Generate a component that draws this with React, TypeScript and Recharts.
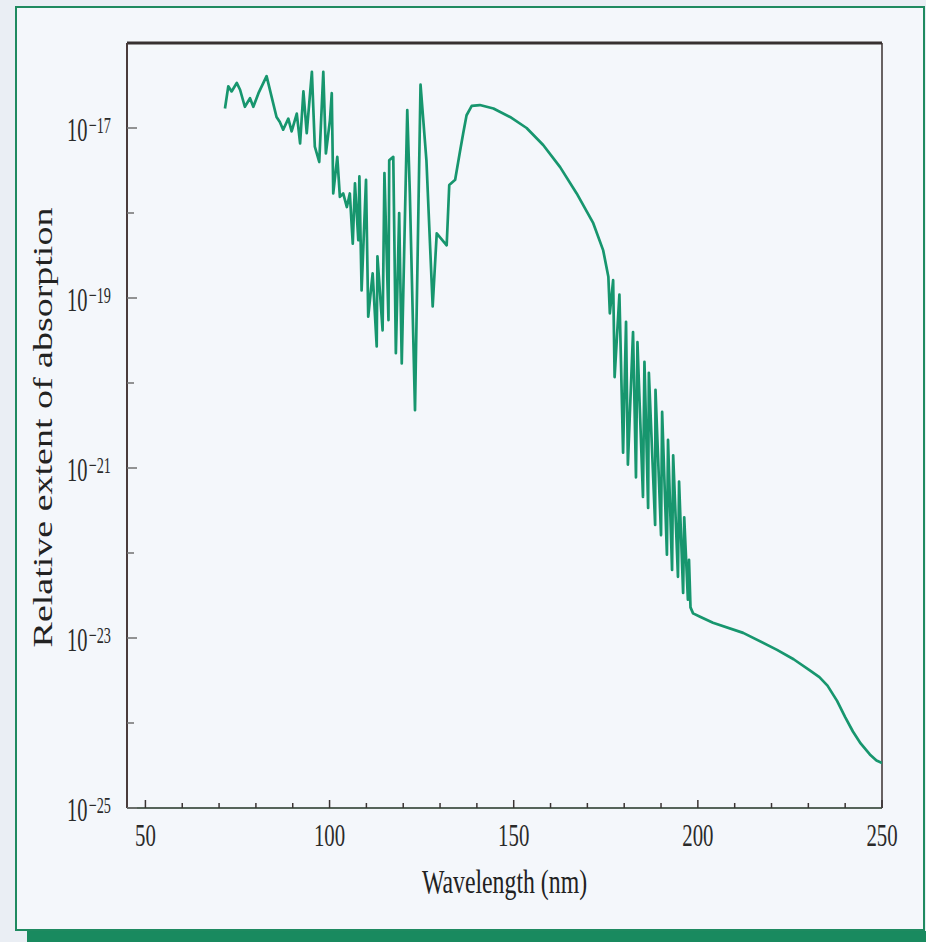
import { LineChart, Line, XAxis, YAxis, ReferenceLine } from 'recharts'

// wavelength (nm)
const wavelengthNm = [
  71.6, 72.5, 73.4, 74.8, 75.7, 77.0, 78.4, 79.3, 80.7, 82.9,
  85.6, 86.5, 87.4, 88.8, 89.7, 91.1, 92.0, 92.9, 93.8, 95.2,
  96.0, 97.2, 98.3, 99.0, 100.1, 100.6, 101.0, 102.1, 102.8, 103.7,
  104.7, 105.5, 106.3, 106.9, 107.8, 108.1, 108.7, 109.9, 110.5, 111.7,
  112.8, 113.0, 114.4, 114.9, 116.0, 116.2, 117.3, 118.0, 118.9, 119.6,
  121.1, 121.8, 123.2, 124.7, 126.3, 128.0, 129.1, 131.8, 132.5, 134.1,
  135.4, 136.3, 137.2, 138.6, 140.8, 144.5, 149.0, 153.5, 158.0, 162.6,
  167.1, 171.6, 174.3, 175.7, 176.1, 177.0, 177.4, 178.7, 179.7, 180.5,
  181.0, 182.4, 183.2, 183.6, 185.1, 185.5, 186.5, 186.7, 188.4, 188.5,
  190.0, 190.3, 191.6, 191.9, 193.0, 193.3, 194.6, 194.9, 196.0, 196.3,
  197.3, 197.6, 198.0, 198.7, 200.6, 204.1, 212.3, 221.5, 226.0, 230.4,
  233.0, 235.2, 237.8, 240.0, 242.1, 244.2, 246.7, 248.5, 250.0,
]

// log10 of the relative extent of absorption
const logAbsorption = [
  -16.77, -16.51, -16.57, -16.47, -16.55, -16.75, -16.65, -16.75, -16.59, -16.39,
  -16.87, -16.93, -17.02, -16.89, -17.04, -16.83, -17.18, -16.57, -17.06, -16.34,
  -17.22, -17.4, -16.34, -17.3, -16.91, -16.59, -17.77, -17.34, -17.81, -17.77,
  -17.93, -17.77, -18.36, -17.65, -18.32, -17.57, -18.91, -17.61, -19.22, -18.71,
  -19.57, -18.51, -19.38, -17.53, -19.26, -17.38, -17.34, -19.65, -18.0, -19.77,
  -16.79, -17.77, -20.32, -16.49, -17.38, -19.1, -18.24, -18.38, -17.67, -17.61,
  -17.28, -17.06, -16.85, -16.74, -16.73, -16.77, -16.87, -17.0, -17.2, -17.46,
  -17.77, -18.12, -18.44, -18.75, -19.18, -18.79, -19.93, -18.96, -20.82, -19.28,
  -20.96, -19.4, -21.11, -19.52, -21.34, -19.75, -21.47, -19.88, -21.67, -20.08,
  -21.79, -20.34, -22.02, -20.67, -22.2, -20.85, -22.28, -21.16, -22.47, -21.58,
  -22.55, -22.08, -22.64, -22.71, -22.75, -22.82, -22.94, -23.14, -23.25, -23.38,
  -23.46, -23.56, -23.74, -23.93, -24.1, -24.24, -24.37, -24.44, -24.47,
]

const xTicks = [50, 60, 70, 80, 90, 100, 110, 120, 130, 140, 150, 160, 170, 180, 190, 200, 210, 220, 230, 240, 250]
const yTicks = [1e-25, 1e-24, 1e-23, 1e-22, 1e-21, 1e-20, 1e-19, 1e-18, 1e-17]

const data = wavelengthNm.map((w, i) => ({ w, a: Math.pow(10, logAbsorption[i]) }))

const serif = "'Liberation Serif', 'DejaVu Serif', serif"

function XTick({ x, y, payload }: any) {
  const major = payload.value % 50 === 0
  return (
    <g>
      <line x1={x} x2={x} y1={y} y2={y - (major ? 8 : 5)} stroke="#3a3434" strokeWidth={1.5} />
      {major && (
        <text
          transform={`translate(${x},${y + 38}) scale(0.65,1)`}
          textAnchor="middle"
          fontSize={32}
          fontFamily={serif}
          fill="#2a2a2a"
        >
          {payload.value}
        </text>
      )}
    </g>
  )
}

function YTick({ x, y, payload }: any) {
  const exp = Math.round(Math.log10(payload.value))
  const major = exp % 2 !== 0
  return (
    <g>
      <line x1={x} x2={x + (major ? 10 : 7)} y1={y} y2={y} stroke="#707070" strokeWidth={1.5} />
      {major && (
        <g transform={`translate(${x - 60},${y}) scale(0.62,1)`} fontFamily={serif} fill="#2a2a2a">
          <text x={0} y={13} fontSize={33}>10</text>
          <text x={35} y={5} fontSize={23}>{'\u2212' + Math.abs(exp)}</text>
        </g>
      )}
    </g>
  )
}

function XTitle({ viewBox }: any) {
  const cx = viewBox ? viewBox.x + viewBox.width / 2 : 505
  const by = viewBox ? viewBox.y + 85 : 893
  return (
    <text
      transform={`translate(${cx},${by}) scale(0.7,1)`}
      textAnchor="middle"
      fontSize={34}
      fontFamily={serif}
      fill="#222"
    >
      Wavelength (nm)
    </text>
  )
}

function YTitle({ viewBox }: any) {
  const cy = viewBox ? viewBox.y + viewBox.height / 2 + 2 : 427
  return (
    <text
      transform={`translate(52,${cy}) scale(0.7,1) rotate(-90)`}
      textAnchor="middle"
      fontSize={38}
      fontFamily={serif}
      fill="#222"
    >
      Relative extent of absorption
    </text>
  )
}

export default function App() {
  return (
    <div style={{ position: 'absolute', left: 0, top: 0, width: 926, height: 942, background: '#eaeef4', overflow: 'hidden' }}>
      <div
        style={{
          position: 'absolute',
          left: 15,
          top: 6,
          width: 906,
          height: 921,
          border: '2px solid #1f8a60',
          background: '#f4f7fb',
        }}
      />
      <div style={{ position: 'absolute', left: 27, top: 931, width: 899, height: 11, background: '#198a5f' }} />
      <div style={{ position: 'absolute', left: 0, top: 0 }}>
        <LineChart width={926} height={942} data={data} margin={{ top: 43, right: 44, bottom: 0, left: 0 }}>
          <XAxis
            dataKey="w"
            type="number"
            domain={[45, 250]}
            ticks={xTicks}
            interval={0}
            allowDataOverflow
            height={134}
            tickSize={0}
            tickMargin={0}
            tickLine={false}
            tick={<XTick />}
            axisLine={{ stroke: '#56645a', strokeWidth: 2 }}
            label={{ content: <XTitle /> }}
          />
          <YAxis
            type="number"
            scale="log"
            domain={[1e-25, 1e-16]}
            ticks={yTicks}
            interval={0}
            allowDataOverflow
            width={127}
            tickSize={0}
            tickMargin={0}
            tickLine={false}
            tick={<YTick />}
            axisLine={{ stroke: '#4a3c3c', strokeWidth: 2 }}
            label={{ content: <YTitle /> }}
          />
          <ReferenceLine y={1e-16} stroke="#363030" strokeWidth={3} />
          <ReferenceLine x={250} stroke="#3a3030" strokeWidth={1.5} />
          <Line
            type="linear"
            dataKey="a"
            stroke="#17966e"
            strokeWidth={2.7}
            strokeLinejoin="round"
            dot={false}
            isAnimationActive={false}
          />
        </LineChart>
      </div>
    </div>
  )
}
